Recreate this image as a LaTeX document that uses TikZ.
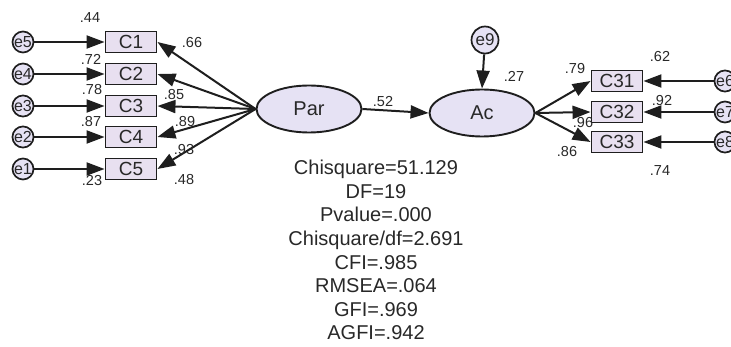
\documentclass[tikz,border=0pt]{standalone}
\usepackage{fontspec}
\setmainfont{Liberation Sans}
\usetikzlibrary{shapes.geometric,arrows.meta}
\definecolor{boxfill}{RGB}{232,224,240}
\definecolor{ellfill}{RGB}{230,226,244}
\definecolor{ink}{RGB}{40,40,40}
\definecolor{linec}{RGB}{30,30,30}
\tikzset{
  obs/.style={draw=linec, line width=1.9pt, fill=boxfill, minimum width=51pt, minimum height=21pt, inner sep=0pt, text=ink, font=\fontsize{19}{20}\selectfont},
  lat/.style={ellipse, draw=linec, line width=1.9pt, fill=ellfill, minimum width=105pt, minimum height=47pt, inner sep=0pt, text=ink, font=\fontsize{20}{22}\selectfont},
  err/.style={circle, draw=linec, line width=1.7pt, fill=ellfill, minimum size=20pt, inner sep=0pt, text=ink, font=\fontsize{16}{16}\selectfont},
  errbig/.style={circle, draw=linec, line width=1.7pt, fill=ellfill, minimum size=27pt, inner sep=0pt, text=ink, font=\fontsize{17}{17}\selectfont},
  lbl/.style={inner sep=0pt, text=ink, font=\fontsize{14.5}{15}\selectfont},
  arr/.style={draw=linec, line width=2pt, -{Triangle[length=18pt,width=13pt]}},
}
\begin{document}
\begin{tikzpicture}[x=1pt,y=-1pt]
\useasboundingbox (0,0) rectangle (731,347);
% left error terms
\node[err] (e5) at (23,42) {e5};
\node[err] (e4) at (23,74) {e4};
\node[err] (e3) at (23,106) {e3};
\node[err] (e2) at (23,137) {e2};
\node[err] (e1) at (23,169) {e1};
% left indicators
\node[obs] (c1) at (131,42) {C1};
\node[obs] (c2) at (131,74) {C2};
\node[obs] (c3) at (131,106) {C3};
\node[obs] (c4) at (131,137) {C4};
\node[obs] (c5) at (131,169) {C5};
% latents
\node[lat] (par) at (309,109) {Par};
\node[lat] (ac) at (482,113) {Ac};
\node[errbig] (e9) at (485,40) {e9};
% right indicators
\node[obs] (c31) at (617,81) {C31};
\node[obs] (c32) at (617,112) {C32};
\node[obs] (c33) at (617,142) {C33};
\node[err] (e6) at (725,81) {e6};
\node[err] (e7) at (725,112) {e7};
\node[err] (e8) at (725,142) {e8};
% arrows
\foreach \e/\c in {e5/c1,e4/c2,e3/c3,e2/c4,e1/c5} \draw[arr] (\e) -- (\c);
\foreach \c in {c1,c2,c3,c4,c5} \draw[arr] (par.west) -- (\c.east);
\draw[arr] (par.east) -- (ac.west);
\draw[arr] (e9) -- (ac.north);
\foreach \c in {c31,c32,c33} \draw[arr] (ac.east) -- (\c.west);
\foreach \e/\c in {e6/c31,e7/c32,e8/c33} \draw[arr] (\e) -- (\c.east);
% labels
\node[lbl] (l44) at (90,18) {.44};
\node[lbl] (l72) at (91,59) {.72};
\node[lbl] (l78) at (92,90) {.78};
\node[lbl] (l87) at (91,122) {.87};
\node[lbl] (l23) at (92,181) {.23};
\node[lbl] (l66) at (192,43) {.66};
\node[lbl] (l85) at (174,95) {.85};
\node[lbl] (l89) at (185,122) {.89};
\node[lbl] (l93) at (184,150) {.93};
\node[lbl] (l48) at (184,180) {.48};
\node[lbl] (l52) at (383,102) {.52};
\node[lbl] (l27) at (514,76) {.27};
\node[lbl] (l79) at (575,69) {.79};
\node[lbl] (l62) at (660,57) {.62};
\node[lbl] (l92) at (662,101) {.92};
\node[lbl] (l96) at (583,123) {.96};
\node[lbl] (l86) at (567,152) {.86};
\node[lbl] (l74) at (660,171) {.74};
% fit statistics
\node[text=ink, font=\fontsize{20}{23.6}\selectfont, align=center, anchor=north, inner sep=0pt] (stats) at (376,160)
{Chisquare=51.129\\DF=19\\Pvalue=.000\\Chisquare/df=2.691\\CFI=.985\\RMSEA=.064\\GFI=.969\\AGFI=.942};
\end{tikzpicture}
\end{document}
